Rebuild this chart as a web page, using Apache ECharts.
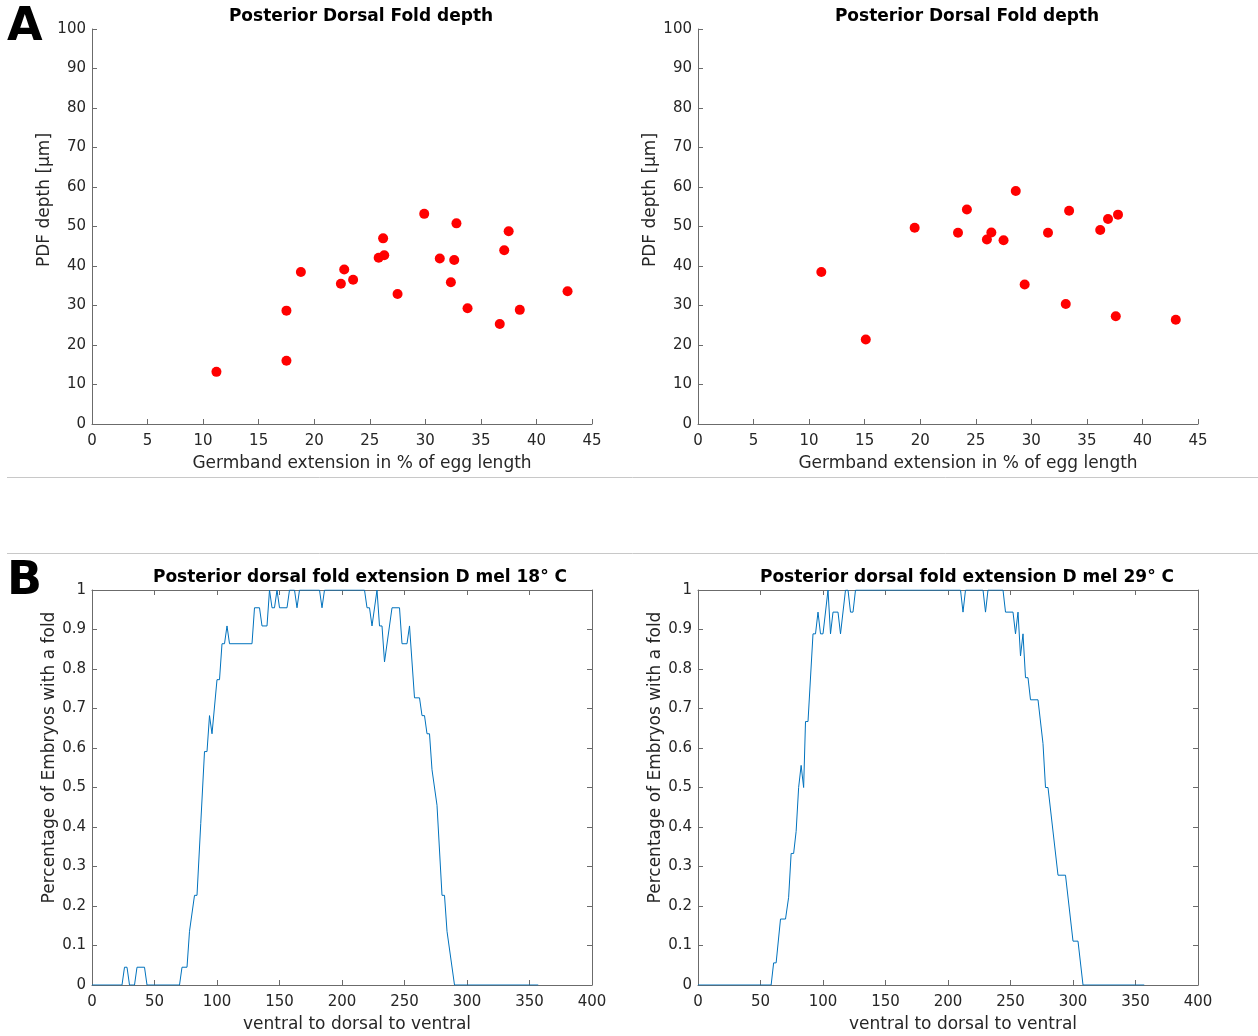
<!DOCTYPE html>
<html>
<head>
<meta charset="utf-8">
<script src="https://cdn.jsdelivr.net/npm/echarts@6/dist/echarts.min.js"></script>
<style>
html,body{margin:0;padding:0;background:#fff;}
#chart{width:1258px;height:1036px;}
</style>
</head>
<body>
<div id="chart"></div>
<script>
// ---------- Data ----------
// Panel A left: germband extension (% egg length) vs PDF depth (µm)
const gbeLeft = [11.2, 17.5, 17.5, 18.8, 22.4, 22.7, 23.5, 25.8, 26.3, 26.2, 27.5, 29.9, 31.3, 32.6, 32.3, 32.8, 33.8, 36.7, 37.1, 37.5, 38.5, 42.8];
const pdfLeft = [13.2, 16.0, 28.7, 38.5, 35.5, 39.1, 36.5, 42.1, 42.7, 47.0, 32.9, 53.2, 41.9, 41.5, 35.9, 50.8, 29.3, 25.3, 44.0, 48.8, 28.9, 33.6];
// Panel A right
const gbeRight = [11.1, 15.1, 19.5, 23.4, 24.2, 26.0, 26.4, 27.5, 28.6, 29.4, 31.5, 33.1, 33.4, 36.2, 36.9, 37.8, 37.6, 43.0];
const pdfRight = [38.5, 21.4, 49.7, 48.4, 54.3, 46.7, 48.5, 46.5, 59.0, 35.3, 48.4, 30.4, 54.0, 49.1, 51.9, 53.0, 27.3, 26.4];

// Panel B left: D mel 18° C  (position, fraction of embryos with a fold)
const pos18 = [0, 24, 26, 28, 30, 34, 36, 42, 44, 70, 72, 76, 78, 82, 84, 87, 90, 92, 94, 96, 100, 102, 104, 106, 108, 110, 128, 130, 134, 136, 140, 142, 144, 146, 148, 150, 156, 158, 162, 164, 166, 182, 184, 186, 218, 220, 222, 224, 228, 230, 232, 234, 240, 246, 248, 252, 254, 258, 262, 264, 266, 268, 270, 272, 276, 280, 282, 284, 290, 357];
const frac18 = [0, 0, 0.045, 0.045, 0, 0, 0.045, 0.045, 0, 0, 0.045, 0.045, 0.136, 0.227, 0.227, 0.409, 0.591, 0.591, 0.682, 0.636, 0.773, 0.773, 0.864, 0.864, 0.909, 0.864, 0.864, 0.955, 0.955, 0.909, 0.909, 1, 0.955, 0.955, 1, 0.955, 0.955, 1, 1, 0.955, 1, 1, 0.955, 1, 1, 0.955, 0.955, 0.909, 1, 0.909, 0.909, 0.818, 0.955, 0.955, 0.864, 0.864, 0.909, 0.727, 0.727, 0.682, 0.682, 0.636, 0.636, 0.545, 0.455, 0.227, 0.227, 0.136, 0, 0];

// Panel B right: D mel 29° C
const pos29 = [0, 58.5, 60.5, 62.5, 66, 70, 72.5, 74.5, 76.5, 78.5, 80.5, 82.5, 84.5, 86, 88, 92, 94, 96, 98, 100, 104, 106, 108, 112, 114, 118, 120, 122, 124, 126, 210, 212, 214, 228, 230, 232, 244, 246, 252, 254, 256, 258, 260, 262, 264, 266, 272, 276, 278, 280, 288, 294, 300, 304, 308, 357];
const frac29 = [0, 0, 0.056, 0.056, 0.167, 0.167, 0.222, 0.333, 0.333, 0.389, 0.5, 0.556, 0.5, 0.667, 0.667, 0.889, 0.889, 0.944, 0.889, 0.889, 1, 0.889, 0.944, 0.944, 0.889, 1, 1, 0.944, 0.944, 1, 1, 0.944, 1, 1, 0.944, 1, 1, 0.944, 0.944, 0.889, 0.944, 0.833, 0.889, 0.778, 0.778, 0.722, 0.722, 0.611, 0.5, 0.5, 0.278, 0.278, 0.111, 0.111, 0, 0];

// Text
const titleA = 'Posterior Dorsal Fold depth';
const titleB18 = 'Posterior dorsal fold extension D mel 18° C';
const titleB29 = 'Posterior dorsal fold extension D mel 29° C';
const xNameA = 'Germband extension in % of egg length';
const yNameA = 'PDF depth [µm]';
const xNameB = 'ventral to dorsal to ventral';
const yNameB = 'Percentage of Embryos with a fold';

// ---------- Chart ----------
const FONT = 'DejaVu Sans';
const TXT = '#262626';
const AX = '#6b6b6b';
const LINE = '#0072BD';

const chart = echarts.init(document.getElementById('chart'), null, {renderer: 'canvas'});

const grids = [
  {left: 92, top: 29, width: 500, height: 395},
  {left: 698, top: 29, width: 500, height: 395},
  {left: 92, top: 590, width: 500, height: 395},
  {left: 698, top: 590, width: 500, height: 395}
];

function mainX(gi, max, interval, name, pad) {
  return {
    type: 'value', gridIndex: gi, min: 0, max: max, interval: interval,
    position: 'bottom',
    name: name, nameLocation: 'middle', nameGap: 31,
    nameTextStyle: {fontFamily: FONT, fontSize: 17, color: TXT, padding: [0, 0, 0, pad]},
    axisLine: {show: true, onZero: false, lineStyle: {color: AX, width: 1}},
    axisTick: {show: true, inside: true, length: 5, lineStyle: {color: AX}},
    axisLabel: {fontFamily: FONT, fontSize: 15, color: TXT, margin: 10},
    splitLine: {show: false}
  };
}
function mainY(gi, max, interval, name, nameGap, pad) {
  return {
    type: 'value', gridIndex: gi, min: 0, max: max, interval: interval,
    position: 'left',
    name: name, nameLocation: 'middle', nameGap: nameGap,
    nameTextStyle: {fontFamily: FONT, fontSize: 17, color: TXT, padding: [0, 0, 0, pad]},
    axisLine: {show: true, onZero: false, lineStyle: {color: AX, width: 1}},
    axisTick: {show: true, inside: true, length: 5, lineStyle: {color: AX}},
    axisLabel: {fontFamily: FONT, fontSize: 15, color: TXT, margin: 6, padding: [3, 0, 0, 0]},
    splitLine: {show: false}
  };
}
function boxX(gi, max, interval) {
  return {
    type: 'value', gridIndex: gi, min: 0, max: max, interval: interval, position: 'top',
    axisLine: {show: true, onZero: false, lineStyle: {color: AX, width: 1}},
    axisTick: {show: true, inside: true, length: 5, lineStyle: {color: AX}},
    axisLabel: {show: false}, splitLine: {show: false}
  };
}
function boxY(gi, max, interval) {
  return {
    type: 'value', gridIndex: gi, min: 0, max: max, interval: interval, position: 'right',
    axisLine: {show: true, onZero: false, lineStyle: {color: AX, width: 1}},
    axisTick: {show: true, inside: true, length: 5, lineStyle: {color: AX}},
    axisLabel: {show: false}, splitLine: {show: false}
  };
}

const titleStyle = {fontFamily: FONT, fontSize: 17, fontWeight: 'bold', color: '#000'};

const option = {
  backgroundColor: '#fff',
  animation: false,
  title: [
    {text: titleA, left: 356, top: 3, textAlign: 'center', textStyle: titleStyle},
    {text: titleA, left: 962, top: 3, textAlign: 'center', textStyle: titleStyle},
    {text: titleB18, left: 355, top: 564, textAlign: 'center', textStyle: titleStyle},
    {text: titleB29, left: 962, top: 564, textAlign: 'center', textStyle: titleStyle}
  ],
  grid: grids,
  xAxis: [
    mainX(0, 45, 5, xNameA, 40),
    mainX(1, 45, 5, xNameA, 40),
    mainX(2, 400, 50, xNameB, 30),
    mainX(3, 400, 50, xNameB, 30),
    boxX(2, 400, 50),
    boxX(3, 400, 50)
  ],
  yAxis: [
    mainY(0, 100, 10, yNameA, 37, 53),
    mainY(1, 100, 10, yNameA, 37, 53),
    mainY(2, 1, 0.1, yNameB, 34, 60),
    mainY(3, 1, 0.1, yNameB, 34, 60),
    boxY(2, 1, 0.1),
    boxY(3, 1, 0.1)
  ],
  series: [
    {type: 'scatter', xAxisIndex: 0, yAxisIndex: 0, symbol: 'circle', symbolSize: 10,
     itemStyle: {color: '#ff0000', opacity: 1}, data: gbeLeft.map((x, i) => [x, pdfLeft[i]])},
    {type: 'scatter', xAxisIndex: 1, yAxisIndex: 1, symbol: 'circle', symbolSize: 10,
     itemStyle: {color: '#ff0000', opacity: 1}, data: gbeRight.map((x, i) => [x, pdfRight[i]])},
    {type: 'line', xAxisIndex: 2, yAxisIndex: 2, showSymbol: false, symbol: 'none',
     lineStyle: {color: LINE, width: 1}, data: pos18.map((x, i) => [x, frac18[i]])},
    {type: 'line', xAxisIndex: 3, yAxisIndex: 3, showSymbol: false, symbol: 'none',
     lineStyle: {color: LINE, width: 1}, data: pos29.map((x, i) => [x, frac29[i]])}
  ],
  graphic: [
    {type: 'line', shape: {x1: 7, y1: 477.5, x2: 1258, y2: 477.5}, style: {stroke: '#c8c8c8', lineWidth: 1}},
    {type: 'line', shape: {x1: 7, y1: 553.5, x2: 1258, y2: 553.5}, style: {stroke: '#c8c8c8', lineWidth: 1}},
    {type: 'text', left: 7, top: 5, style: {text: 'A', font: 'bold 46px "DejaVu Sans"', fill: '#000'}},
    {type: 'text', left: 7, top: 559, style: {text: 'B', font: 'bold 46px "DejaVu Sans"', fill: '#000'}}
  ]
};
chart.setOption(option);
</script>
</body>
</html>
